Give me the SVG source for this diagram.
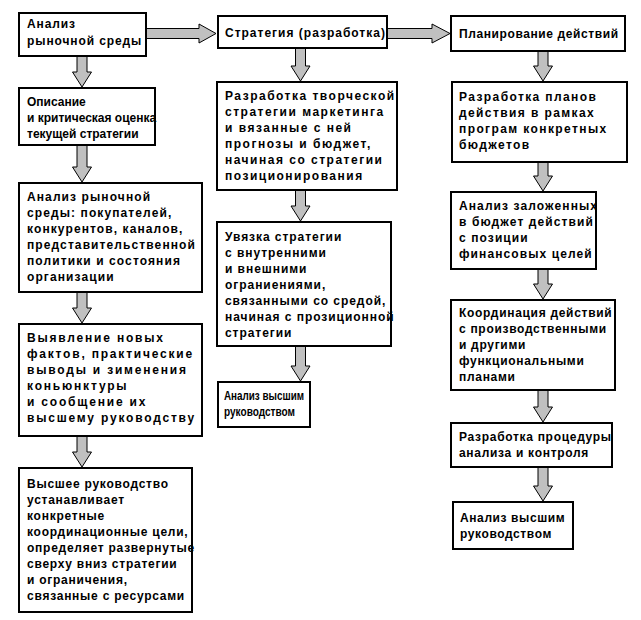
<svg xmlns="http://www.w3.org/2000/svg" width="641" height="620" viewBox="0 0 641 620">
<style>
.b{fill:#fff;stroke:#000;stroke-width:2}
.a{fill:#c0c0c0;stroke:#000;stroke-width:1;stroke-linejoin:miter}
text{font-family:"Liberation Sans",Arial,sans-serif;font-weight:bold;font-size:12px;letter-spacing:1.1px;fill:#000}
#n1 text{letter-spacing:0.9px}
#n2 text{letter-spacing:0px}
#n4 text{letter-spacing:1.8px}
#n5 text{letter-spacing:0.75px}
#c1 text{letter-spacing:1px}
#c2 text{letter-spacing:1.5px}
#c3 text{letter-spacing:0.95px}
#c4 text{letter-spacing:0px}
#d1 text{letter-spacing:0.6px}
#d2 text{letter-spacing:1.4px}
#d4 text{letter-spacing:0.7px}
#d5 text{letter-spacing:0.7px}
#d6 text{letter-spacing:0.6px}
</style>
<rect width="641" height="620" fill="#fff"/>
<g id="connectors">
<path class="a" d="M146,28.5 H199 V24 L216,33.5 L199,43 V38.5 H146 Z"/>
<path class="a" d="M387,28.5 H432 V24 L450,33.5 L432,43 V38.5 H387 Z"/>
<path class="a" d="M77,56 H87 V72 H91.5 L82,87 L72.5,72 H77 Z"/>
<path class="a" d="M77,145 H87 V167 H91.5 L82,182 L72.5,167 H77 Z"/>
<path class="a" d="M77,292 H87 V308 H91.5 L82,323 L72.5,308 H77 Z"/>
<path class="a" d="M77,436 H87 V452 H91.5 L82,467 L72.5,452 H77 Z"/>
<path class="a" d="M295.5,48 H305.5 V66 H310 L300.5,81 L291,66 H295.5 Z"/>
<path class="a" d="M295.5,190 H305.5 V206 H310 L300.5,221 L291,206 H295.5 Z"/>
<path class="a" d="M295.5,346 H305.5 V366 H310 L300.5,381 L291,366 H295.5 Z"/>
<path class="a" d="M538,51 H548 V66 H552.5 L543,81 L533.5,66 H538 Z"/>
<path class="a" d="M538,162 H548 V176 H552.5 L543,191 L533.5,176 H538 Z"/>
<path class="a" d="M538,269 H548 V284 H552.5 L543,299 L533.5,284 H538 Z"/>
<path class="a" d="M538,390 H548 V407 H552.5 L543,422 L533.5,407 H538 Z"/>
<path class="a" d="M538,467 H548 V486 H552.5 L543,501 L533.5,486 H538 Z"/>
</g>
<g id="n1"><rect class="b" x="19" y="13" width="127" height="43"/>
<text x="27" y="28">Анализ</text><text x="27" y="45">рыночной среды</text></g>
<g id="n2"><rect class="b" x="19" y="88" width="136" height="57"/>
<text x="27" y="106">Описание</text><text x="27" y="122">и критическая оценка</text><text x="27" y="138">текущей стратегии</text></g>
<g id="n3"><rect class="b" x="19" y="183" width="183" height="109"/>
<text x="27" y="201">Анализ рыночной</text><text x="27" y="217">среды: покупателей,</text><text x="27" y="233">конкурентов, каналов,</text><text x="27" y="249">представительственной</text><text x="27" y="265">политики и состояния</text><text x="27" y="281">организации</text></g>
<g id="n4"><rect class="b" x="19" y="324" width="183" height="112"/>
<text x="27" y="342">Выявление новых</text><text x="27" y="358">фактов, практические</text><text x="27" y="374">выводы и зименения</text><text x="27" y="390">коньюнктуры</text><text x="27" y="406">и сообщение их</text><text x="27" y="422">высшему руководству</text></g>
<g id="n5"><rect class="b" x="19" y="468" width="173" height="144"/>
<text x="27" y="488">Высшее руководство</text><text x="27" y="504">устанавливает</text><text x="27" y="520">конкретные</text><text x="27" y="536">координационные цели,</text><text x="27" y="552">определяет развернутые</text><text x="27" y="568">сверху вниз стратегии</text><text x="27" y="584">и ограничения,</text><text x="27" y="600">связанные с ресурсами</text></g>
<g id="c1"><rect class="b" x="218" y="16" width="169" height="32"/>
<text x="225" y="37">Стратегия (разработка)</text></g>
<g id="c2"><rect class="b" x="217" y="82" width="180" height="108"/>
<text x="225" y="100">Разработка творческой</text><text x="225" y="116">стратегии маркетинга</text><text x="225" y="132">и вязанные с ней</text><text x="225" y="148">прогнозы и бюджет,</text><text x="225" y="164">начиная со стратегии</text><text x="225" y="180">позиционирования</text></g>
<g id="c3"><rect class="b" x="217" y="222" width="174" height="124"/>
<text x="225" y="241">Увязка стратегии</text><text x="225" y="257">с внутренними</text><text x="225" y="273">и внешними</text><text x="225" y="289">ограниениями,</text><text x="225" y="305">связанными со средой,</text><text x="225" y="321">начиная с прозиционной</text><text x="225" y="337">стратегии</text></g>
<g id="c4"><rect class="b" x="218" y="382" width="92" height="45"/>
<text x="224" y="400" textLength="80" lengthAdjust="spacingAndGlyphs">Анализ высшим</text><text x="224" y="416" textLength="71" lengthAdjust="spacingAndGlyphs">руководством</text></g>
<g id="d1"><rect class="b" x="451" y="16" width="174" height="35"/>
<text x="459" y="38">Планирование действий</text></g>
<g id="d2"><rect class="b" x="452" y="82" width="175" height="80"/>
<text x="459" y="101">Разработка планов</text><text x="459" y="117">действия в рамках</text><text x="459" y="133">програм конкретных</text><text x="459" y="149">бюджетов</text></g>
<g id="d3"><rect class="b" x="451" y="192" width="145" height="77"/>
<text x="459" y="210">Анализ заложенных</text><text x="459" y="226">в бюджет действий</text><text x="459" y="242">с позиции</text><text x="459" y="258">финансовых целей</text></g>
<g id="d4"><rect class="b" x="451" y="300" width="164" height="90"/>
<text x="459" y="317">Координация действий</text><text x="459" y="333">с производственными</text><text x="459" y="349">и другими</text><text x="459" y="365">функциональными</text><text x="459" y="381">планами</text></g>
<g id="d5"><rect class="b" x="451" y="423" width="161" height="44"/>
<text x="459" y="441">Разработка процедуры</text><text x="459" y="457">анализа и контроля</text></g>
<g id="d6"><rect class="b" x="453" y="502" width="120" height="47"/>
<text x="460" y="522">Анализ высшим</text><text x="460" y="538">руководством</text></g>
</svg>
